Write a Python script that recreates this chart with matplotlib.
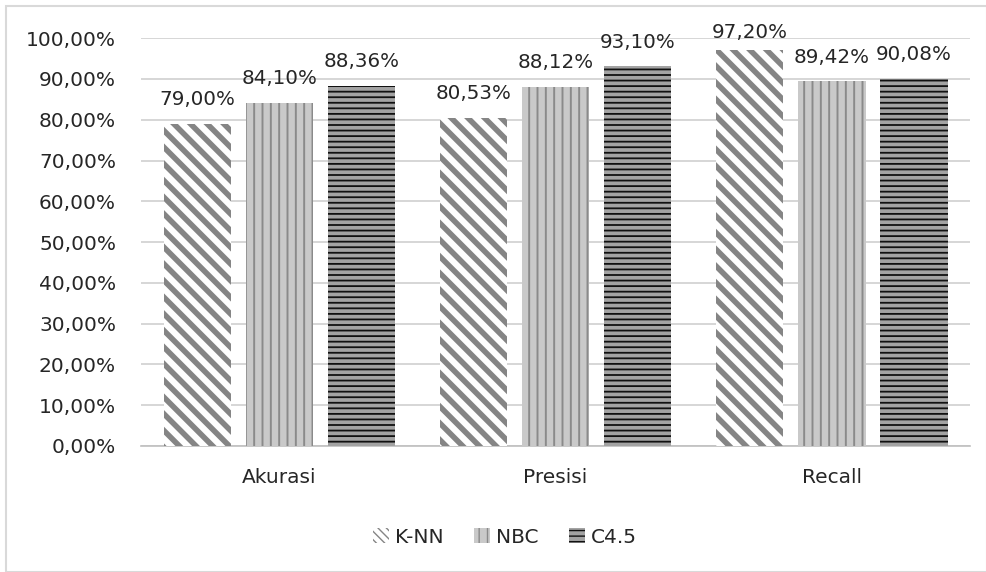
import matplotlib.pyplot as plt
import matplotlib.patches as mpatches
import numpy as np

plt.rcParams['font.family'] = ['DejaVu Sans']

categories = ["Akurasi", "Presisi", "Recall"]
knn = [79.00, 80.53, 97.20]
nbc = [84.10, 88.12, 89.42]
c45 = [88.36, 93.10, 90.08]

# (name, values, bar style, legend hatch / hatch width)
series = [
    ("K-NN", knn, dict(facecolor="white", edgecolor="#858585", hatch="\\\\", hlw=4.0,
                       lhatch="\\\\\\\\", llw=2.2)),
    ("NBC", nbc, dict(facecolor="#c9c9c9", edgecolor="#8a8a8a", hatch="||", hlw=1.4,
                      lhatch="||", llw=1.4)),
    ("C4.5", c45, dict(facecolor="#a3a3a3", edgecolor="#111111", hatch="---", hlw=1.3,
                       lhatch="---", llw=1.3)),
]

def pct(v):
    return f"{v:.2f}%".replace(".", ",")

fig = plt.figure(figsize=(9.87, 5.72), dpi=100)
ax = fig.add_axes([0.1429, 0.2203, 0.840, 0.713])

x = np.arange(len(categories))
width = 0.243
step = 0.297

handles = []
for i, (name, vals, st) in enumerate(series):
    pos = x + (i - 1) * step
    with plt.rc_context({'hatch.linewidth': st["hlw"]}):
        bars = ax.bar(pos, vals, width, facecolor=st["facecolor"], edgecolor=st["edgecolor"],
                      hatch=st["hatch"], linewidth=0, zorder=3)
    with plt.rc_context({'hatch.linewidth': st["llw"]}):
        h = mpatches.Patch(facecolor=st["facecolor"], edgecolor=st["edgecolor"],
                           hatch=st["lhatch"], linewidth=0, label=name)
    for b in bars:
        try:
            b.set_hatch_linewidth(st["hlw"])
        except AttributeError:
            pass
    try:
        h.set_hatch_linewidth(st["llw"])
    except AttributeError:
        pass
    handles.append(h)
    for p, v in zip(pos, vals):
        # label baseline sits a bit above the bar, but not past the top of the plot
        ax.text(p, min(v + 4.6, 100), pct(v), ha="center", va="baseline", fontsize=14.3,
                color="#262626", clip_on=False)

ax.set_ylim(0, 100)
ax.set_xlim(-0.5, 2.5)
ax.set_yticks(np.arange(0, 101, 10))
ax.set_yticklabels([pct(v) for v in np.arange(0, 101, 10)], fontsize=14.5, color="#262626")
ax.set_xticks(x)
ax.set_xticklabels(categories, fontsize=14.5, color="#262626")
ax.tick_params(axis="y", length=0, pad=18)
ax.tick_params(axis="x", length=0, pad=16)
ax.yaxis.grid(True, color="#d0d0d0", linewidth=1.2, zorder=0)
ax.set_axisbelow(True)
for s in ["top", "right", "left"]:
    ax.spines[s].set_visible(False)
ax.spines["bottom"].set_color("#bfbfbf")
ax.spines["bottom"].set_linewidth(1.2)

fig.legend(handles=handles, loc="center", bbox_to_anchor=(0.512, 0.061), ncol=3, frameon=False,
           fontsize=14.5, handlelength=0.8, handleheight=0.8, handletextpad=0.3, columnspacing=1.5,
           labelcolor="#262626")

fig.patches.append(mpatches.Rectangle((0.006, 0.0), 0.994, 0.99, transform=fig.transFigure,
                                      fill=False, edgecolor="#d9d9d9", linewidth=1.5))

fig.savefig("out.png", dpi=100)
